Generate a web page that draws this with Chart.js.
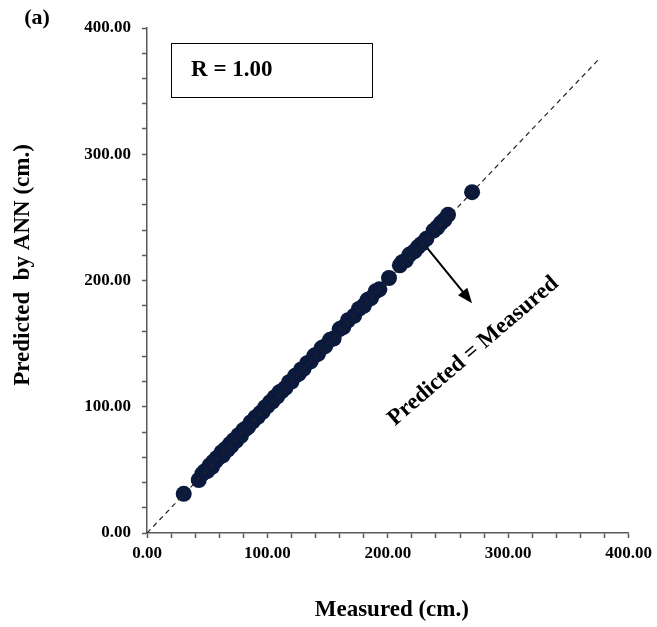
<!DOCTYPE html>
<html>
<head>
<meta charset="utf-8">
<script src="https://cdn.jsdelivr.net/npm/chart.js@4.4.1/dist/chart.umd.min.js"></script>
<style>
  html, body { margin: 0; padding: 0; background: #fff; }
  canvas { display: block; }
</style>
</head>
<body>
<canvas id="scatter" width="657" height="627"></canvas>
<script>
// measured vs. ANN-predicted values (cm.)
const measured = [30.5, 43, 46, 48, 50, 52, 54, 55, 57, 58, 60, 62, 63, 65, 67, 69, 70, 72, 74, 76,
    78, 80, 82, 84, 86, 88, 90, 92, 94, 96, 98, 100, 102, 104, 106, 108, 110, 112, 115, 118,
    120, 123, 126, 128, 130, 133, 136, 139, 142, 145, 148, 152, 155, 160, 163, 167, 172, 176, 180, 183,
    186, 190, 193, 201, 210, 212, 215, 218, 222, 225, 228, 232, 238, 241, 244, 247, 250, 270];
const predicted = [31, 42, 47, 49, 49, 53.5, 52.5, 56.5, 57, 59.5, 60, 64, 61.5, 66.5, 66, 70.5, 69, 73.5, 73, 77.5,
    77, 81.5, 82.5, 84, 87.5, 88.5, 91.5, 92, 95, 96, 99.5, 100.5, 103.5, 104, 107.5, 108, 111.5, 112.5, 115, 119.5,
    120, 124.5, 126, 129.5, 130, 134.5, 136, 140.5, 142, 146.5, 148, 153, 154, 161.5, 163, 168.5, 172, 177.5, 180, 184.5,
    186, 191.5, 193, 202, 212, 214.5, 216, 220.5, 223, 226.5, 229, 233, 239.5, 242, 245.5, 248, 252, 270];
const lineX = [0, 375];
const lineY = [0, 375];
const axisMin = 0;
const axisMax = 400;
const majorStep = 100;
const minorStep = 20;
const rLabel = 'R = 1.00';
const lineLabel = 'Predicted = Measured';

const serif = '"Liberation Serif", "Times New Roman", serif';
const axisColor = '#595959';

const points = measured.map((m, i) => ({ x: m, y: predicted[i] }));
const diag = lineX.map((v, i) => ({ x: v, y: lineY[i] }));

// titles, R box, arrow and rotated label
const annotations = {
    id: 'annotations',
    afterDraw(chart) {
        const ctx = chart.ctx;
        const xs = chart.scales.x, ys = chart.scales.y;
        const area = chart.chartArea;
        ctx.save();
        ctx.fillStyle = '#000';
        ctx.textAlign = 'center';
        ctx.textBaseline = 'middle';

        ctx.font = 'bold 22px ' + serif;
        ctx.fillText('(a)', 37, 18);

        ctx.font = 'bold 23px ' + serif;
        ctx.fillText('Measured (cm.)', (area.left + area.right) / 2 + 4, 610);

        ctx.save();
        ctx.translate(23, 265);
        ctx.rotate(-Math.PI / 2);
        ctx.fillText('Predicted  by ANN (cm.)', 0, 0);
        ctx.restore();

        // R box
        const bx1 = xs.getPixelForValue(20), bx2 = xs.getPixelForValue(187);
        const by1 = ys.getPixelForValue(388), by2 = ys.getPixelForValue(345);
        ctx.fillStyle = '#fff';
        ctx.fillRect(bx1, by1, bx2 - bx1, by2 - by1);
        ctx.strokeStyle = '#000';
        ctx.lineWidth = 1;
        ctx.strokeRect(Math.round(bx1) + 0.5, Math.round(by1) + 0.5, Math.round(bx2 - bx1), Math.round(by2 - by1));
        ctx.fillStyle = '#000';
        ctx.font = 'bold 23px ' + serif;
        ctx.textAlign = 'left';
        ctx.fillText(rLabel, bx1 + 20, (by1 + by2) / 2);

        // arrow
        const ax1 = xs.getPixelForValue(233), ay1 = ys.getPixelForValue(225.5);
        const ax2 = xs.getPixelForValue(270), ay2 = ys.getPixelForValue(182);
        const ang = Math.atan2(ay2 - ay1, ax2 - ax1);
        const head = 15;
        ctx.strokeStyle = '#000';
        ctx.lineWidth = 2;
        ctx.beginPath();
        ctx.moveTo(ax1, ay1);
        ctx.lineTo(ax2 - Math.cos(ang) * head * 0.8, ay2 - Math.sin(ang) * head * 0.8);
        ctx.stroke();
        ctx.beginPath();
        ctx.moveTo(ax2, ay2);
        ctx.lineTo(ax2 - head * Math.cos(ang) + 6 * Math.sin(ang), ay2 - head * Math.sin(ang) - 6 * Math.cos(ang));
        ctx.lineTo(ax2 - head * Math.cos(ang) - 6 * Math.sin(ang), ay2 - head * Math.sin(ang) + 6 * Math.cos(ang));
        ctx.closePath();
        ctx.fill();

        // rotated label
        ctx.save();
        ctx.translate(xs.getPixelForValue(271), ys.getPixelForValue(144));
        ctx.rotate(-40.6 * Math.PI / 180);
        ctx.textAlign = 'center';
        ctx.font = 'bold 23px ' + serif;
        ctx.fillText(lineLabel, 0, 0);
        ctx.restore();

        ctx.restore();
    }
};

const tickLabel = v => (v % majorStep === 0 ? v.toFixed(2) : '');

new Chart(document.getElementById('scatter'), {
    type: 'scatter',
    data: {
        datasets: [{
            label: 'Predicted = Measured',
            type: 'line',
            data: diag,
            borderColor: '#222',
            borderWidth: 1.2,
            borderDash: [5, 4],
            pointRadius: 0,
            fill: false,
            order: 0
        }, {
            label: 'ANN',
            data: points,
            backgroundColor: '#0b1a3c',
            borderWidth: 0,
            pointRadius: 8,
            pointHoverRadius: 8,
            order: 1
        }]
    },
    options: {
        responsive: false,
        animation: false,
        events: [],
        layout: { padding: { top: 28, right: 28, bottom: 0, left: 0 } },
        plugins: {
            legend: { display: false },
            tooltip: { enabled: false }
        },
        scales: {
            x: {
                type: 'linear',
                min: axisMin,
                max: axisMax,
                afterFit(s) { s.height = 94; },
                border: { color: axisColor, width: 1.5 },
                grid: { drawOnChartArea: false, drawTicks: true, tickLength: 5, color: axisColor, tickWidth: 1.5 },
                ticks: {
                    stepSize: minorStep,
                    autoSkip: false,
                    maxRotation: 0,
                    padding: 5,
                    color: '#000',
                    font: { family: serif, size: 17, weight: 'bold' },
                    callback: tickLabel
                }
            },
            y: {
                type: 'linear',
                min: axisMin,
                max: axisMax,
                afterFit(s) { s.width = 147; },
                border: { color: axisColor, width: 1.5 },
                grid: { drawOnChartArea: false, drawTicks: true, tickLength: 5, color: axisColor, tickWidth: 1.5 },
                ticks: {
                    stepSize: minorStep,
                    autoSkip: false,
                    padding: 11,
                    color: '#000',
                    font: { family: serif, size: 17, weight: 'bold' },
                    callback: tickLabel
                }
            }
        }
    },
    plugins: [annotations]
});
</script>
</body>
</html>
